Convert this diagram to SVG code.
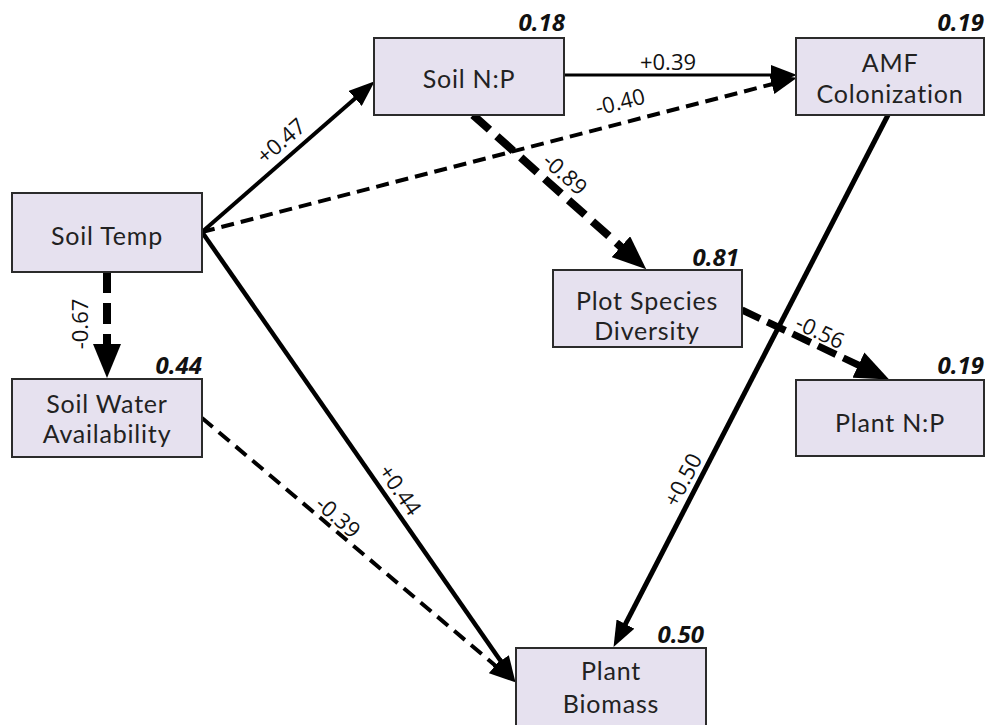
<svg xmlns="http://www.w3.org/2000/svg" width="989" height="725" viewBox="0 0 989 725">
<style>
.box{fill:#e6e1ef;stroke:#2b2b2b;stroke-width:2}
.t{font-family:Lato,"Open Sans","Liberation Sans",sans-serif;font-size:25px;letter-spacing:0.8px;fill:#222;text-anchor:middle}
.r{font-family:"Open Sans","Noto Sans","Liberation Sans",sans-serif;font-size:24px;font-weight:bold;font-style:italic;fill:#111;text-anchor:end}
.e{font-family:"Open Sans","Noto Sans","Liberation Sans",sans-serif;font-size:22px;fill:#111;text-anchor:middle}
.c{fill:none;stroke:#000}
</style>
<defs>
<marker id="ah" markerUnits="userSpaceOnUse" markerWidth="26" markerHeight="20" viewBox="0 0 26 20" refX="1" refY="10" orient="auto"><path d="M0,0 L26,10 L0,20 z" fill="#000"/></marker>
<marker id="ahL" markerUnits="userSpaceOnUse" markerWidth="34" markerHeight="28" viewBox="0 0 34 28" refX="1" refY="14" orient="auto"><path d="M0,0 L34,14 L0,28 z" fill="#000"/></marker>
</defs>
<rect width="989" height="725" fill="#fff"/>
<g id="connectors">
<line class="c" x1="202" y1="232" x2="355.9" y2="97.8" stroke-width="4" marker-end="url(#ah)"/>
<line class="c" x1="202" y1="232" x2="772.8" y2="84" stroke-width="4" stroke-dasharray="13 7" marker-end="url(#ah)"/>
<line class="c" x1="564" y1="75" x2="772" y2="75" stroke-width="3" marker-end="url(#ah)"/>
<line class="c" x1="473" y1="115" x2="621.6" y2="247.4" stroke-width="8" stroke-dasharray="22 10" marker-end="url(#ahL)"/>
<line class="c" x1="107" y1="272" x2="107" y2="345" stroke-width="8" stroke-dasharray="21 10" marker-end="url(#ahL)"/>
<line class="c" x1="202" y1="232" x2="501.2" y2="661.7" stroke-width="4.5" marker-end="url(#ah)"/>
<line class="c" x1="202" y1="418" x2="496.1" y2="666.2" stroke-width="4" stroke-dasharray="14 8" marker-end="url(#ah)"/>
<line class="c" x1="888" y1="115" x2="625" y2="624.9" stroke-width="5" marker-end="url(#ah)"/>
<line class="c" x1="742" y1="310" x2="859.3" y2="365.5" stroke-width="7" stroke-dasharray="20 8" marker-end="url(#ahL)"/>
<text class="e" transform="translate(281,141) rotate(-41)" dy="0.35em">+0.47</text>
<text class="e" transform="translate(620,102) rotate(-14.5)" dy="0.35em">-0.40</text>
<text class="e" x="668" y="70">+0.39</text>
<text class="e" transform="translate(565,174) rotate(41.7)" dy="0.35em">-0.89</text>
<text class="e" transform="translate(80,324) rotate(-90)" dy="0.35em">-0.67</text>
<text class="e" transform="translate(400,490) rotate(55)" dy="0.35em">+0.44</text>
<text class="e" transform="translate(338,517) rotate(41)" dy="0.35em">-0.39</text>
<text class="e" transform="translate(683,480) rotate(-62.7)" dy="0.35em">+0.50</text>
<text class="e" transform="translate(820,332) rotate(25)" dy="0.35em">-0.56</text>
</g>
<g id="soil-temp">
<rect class="box" x="12" y="193" width="190" height="79"/>
<text class="t" x="107" y="245">Soil Temp</text>
</g>
<g id="soil-water">
<rect class="box" x="12" y="379" width="190" height="78"/>
<text class="t" x="107" y="413">Soil Water</text>
<text class="t" x="107" y="443">Availability</text>
<text class="r" x="202" y="374">0.44</text>
</g>
<g id="soil-np">
<rect class="box" x="374" y="38" width="190" height="77"/>
<text class="t" x="469" y="88">Soil N:P</text>
<text class="r" x="565" y="31">0.18</text>
</g>
<g id="amf">
<rect class="box" x="796" y="38" width="188" height="77"/>
<text class="t" x="890" y="72">AMF</text>
<text class="t" x="890" y="103">Colonization</text>
<text class="r" x="984" y="31">0.19</text>
</g>
<g id="plot-species">
<rect class="box" x="553" y="270" width="189" height="77"/>
<text class="t" x="647" y="310">Plot Species</text>
<text class="t" x="647" y="340">Diversity</text>
<text class="r" x="739" y="266">0.81</text>
</g>
<g id="plant-np">
<rect class="box" x="796" y="380" width="188" height="76"/>
<text class="t" x="890" y="432">Plant N:P</text>
<text class="r" x="984" y="374">0.19</text>
</g>
<g id="plant-biomass">
<rect class="box" x="516" y="648" width="190" height="80"/>
<text class="t" x="611" y="680">Plant</text>
<text class="t" x="611" y="713">Biomass</text>
<text class="r" x="704" y="643">0.50</text>
</g>
</svg>
